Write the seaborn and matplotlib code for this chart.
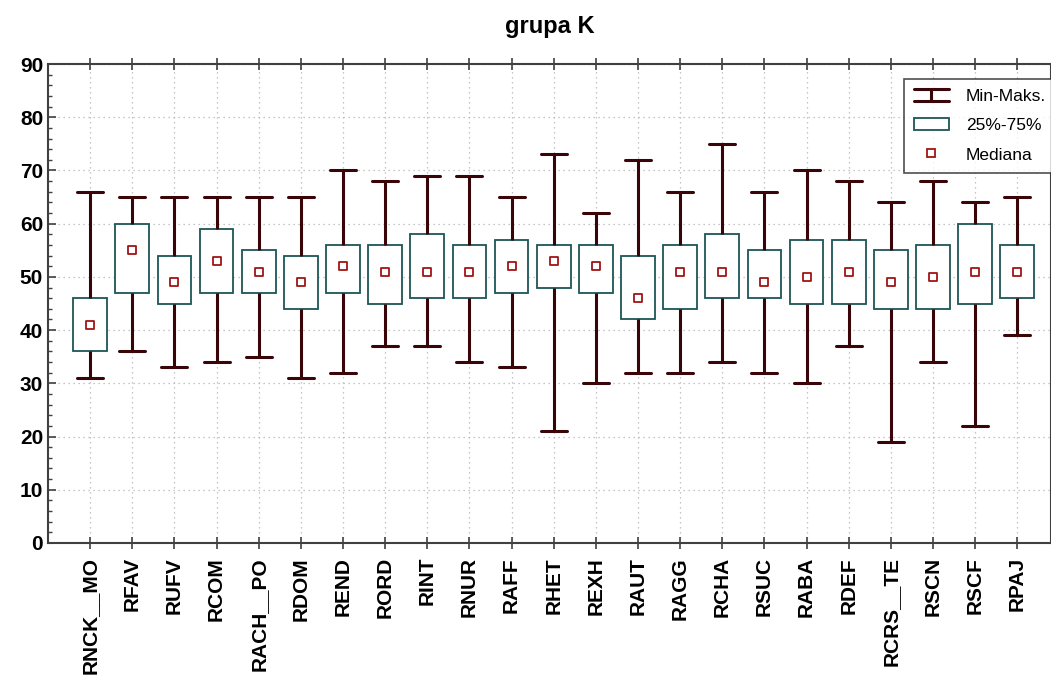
#!/usr/bin/env python3
import pandas as pd
import seaborn as sns
import matplotlib
matplotlib.use("Agg")
import matplotlib.pyplot as plt
from matplotlib.lines import Line2D
from matplotlib.patches import Rectangle
from matplotlib.legend_handler import HandlerBase
from matplotlib.ticker import MultipleLocator


LABELS = ["RNCK__MO", "RFAV", "RUFV", "RCOM", "RACH__PO", "RDOM", "REND", "RORD",
          "RINT", "RNUR", "RAFF", "RHET", "REXH", "RAUT", "RAGG", "RCHA", "RSUC",
          "RABA", "RDEF", "RCRS__TE", "RSCN", "RSCF", "RPAJ"]
MINS = [31, 36, 33, 34, 35, 31, 32, 37, 37, 34, 33, 21, 30, 32, 32, 34, 32, 30, 37, 19, 34, 22, 39]
Q1S = [36, 47, 45, 47, 47, 44, 47, 45, 46, 46, 47, 48, 47, 42, 44, 46, 46, 45, 45, 44, 44, 45, 46]
MEDIANS = [41, 55, 49, 53, 51, 49, 52, 51, 51, 51, 52, 53, 52, 46, 51, 51, 49, 50, 51, 49, 50, 51, 51]
Q3S = [46, 60, 54, 59, 55, 54, 56, 56, 58, 56, 57, 56, 56, 54, 56, 58, 55, 57, 57, 55, 56, 60, 56]
MAXS = [66, 65, 65, 65, 65, 65, 70, 68, 69, 69, 65, 73, 62, 72, 66, 75, 66, 70, 68, 64, 68, 64, 65]

WHISKER = "#3a0508"
BOX_EDGE = "#1d5656"
MED_RED = "#a01515"


class HandlerMinMax(HandlerBase):
    # horizontal I-beam like the original legend symbol
    def create_artists(self, legend, orig_handle, xdescent, ydescent,
                       width, height, fontsize, trans):
        x0, x1 = -xdescent, -xdescent + width
        yb, yt = -ydescent, -ydescent + height
        xm = (x0 + x1) / 2
        arts = [Line2D([x0, x1], [yt, yt]), Line2D([x0, x1], [yb, yb]),
                Line2D([xm, xm], [yb, yt])]
        for a in arts:
            a.set_color(WHISKER)
            a.set_linewidth(2.2)
            a.set_transform(trans)
        return arts


def main() -> None:
    rows = []
    for i, lab in enumerate(LABELS):
        for v in (MINS[i], Q1S[i], MEDIANS[i], Q3S[i], MAXS[i]):
            rows.append({"var": lab, "value": v})
    df = pd.DataFrame(rows)

    sns.set_theme(style="white")
    plt.rcParams["font.family"] = ["Liberation Sans", "DejaVu Sans"]
    plt.rcParams["text.color"] = "black"

    fig = plt.figure(figsize=(10.51, 6.78), dpi=100)
    ax = fig.add_axes([48 / 1051, 1 - 543 / 678, 1 - 48 / 1051, (543 - 64) / 678])

    line_kw = dict(color=WHISKER, linewidth=2.2)
    sns.boxplot(data=df, x="var", y="value", order=LABELS, ax=ax, whis=(0, 100),
                width=0.8, showfliers=False, capwidths=0.62,
                boxprops=dict(facecolor="white", edgecolor=BOX_EDGE, linewidth=1.3),
                whiskerprops=line_kw, capprops=line_kw,
                medianprops=dict(linewidth=0))
    sns.stripplot(x=LABELS, y=MEDIANS, order=LABELS, ax=ax, jitter=False,
                  marker="s", size=5.5, color="white", edgecolor=MED_RED,
                  linewidth=1.3, zorder=5)

    ax.set_xlim(-1, 22.8)
    ax.set_ylim(0, 90)
    ax.yaxis.set_major_locator(MultipleLocator(10))
    ax.yaxis.set_minor_locator(MultipleLocator(2))
    ax.set_axisbelow(True)
    ax.grid(True, which="major", linestyle=(0, (1, 3)), color="#b4b4b4", linewidth=0.9)
    for side in ("left", "bottom", "top", "right"):
        ax.spines[side].set_visible(True)
        ax.spines[side].set_color("#404040")
        ax.spines[side].set_linewidth(1.5)
    ax.tick_params(axis="y", which="major", direction="in", length=6, width=1.2,
                   left=True, labelsize=15, colors="#404040", labelcolor="black")
    ax.tick_params(axis="y", which="minor", direction="in", length=3, width=1, left=True,
                   colors="#404040")
    ax.tick_params(axis="x", direction="inout", length=8, width=1.2, bottom=True, top=True,
                   labelsize=15, colors="#404040", labelcolor="black", pad=6)
    ax.set_xticks(range(len(LABELS)))
    ax.set_xticklabels(LABELS)
    for t in ax.get_xticklabels():
        t.set_fontweight("bold")
        t.set_rotation(90)
        t.set_va("top")
    for t in ax.get_yticklabels():
        t.set_fontweight("bold")
    ax.set_xlabel("")
    ax.set_ylabel("")
    ax.set_title("grupa K", fontsize=17, fontweight="bold", pad=22, color="black")

    handles = [
        Line2D([], []),
        Rectangle((0, 0), 1, 1, facecolor="white", edgecolor=BOX_EDGE, linewidth=1.3),
        Line2D([], [], marker="s", linestyle="none", markersize=5.5,
               markerfacecolor="white", markeredgecolor=MED_RED, markeredgewidth=1.3),
    ]
    leg = ax.legend(handles, ["Min-Maks.", "25%-75%", "Mediana"],
                    handler_map={handles[0]: HandlerMinMax()},
                    loc="upper left", bbox_to_anchor=(0.853, 0.969), borderaxespad=0,
                    fontsize=12.5, frameon=True, fancybox=False, handlelength=2.0,
                    labelspacing=0.8, handletextpad=1.0, borderpad=0.6)
    leg.get_frame().set_edgecolor("#222222")
    leg.get_frame().set_linewidth(1.2)
    for t in leg.get_texts():
        t.set_color("black")

    fig.savefig("out.png", dpi=100)
    plt.close(fig)


if __name__ == "__main__":
    main()
